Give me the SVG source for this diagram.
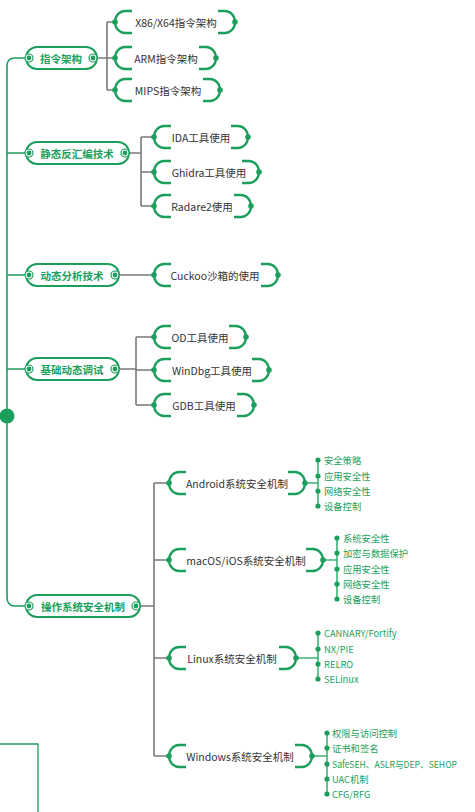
<svg xmlns="http://www.w3.org/2000/svg" width="475" height="812" viewBox="0 0 475 812">
<defs>
<style>
.trunk{fill:none;stroke:#1c9f5c;stroke-width:1.6}
.gray{fill:none;stroke:#7a7a7a;stroke-width:1.6}
.leafline{fill:none;stroke:#3db374;stroke-width:1.6}
.pill{fill:#fff;stroke:#1c9f5c;stroke-width:2}
.ring{fill:#fff;stroke:#1c9f5c;stroke-width:1.2}
.dot{fill:#1c9f5c}
.br{fill:none;stroke:#1c9f5c;stroke-width:2.4}
.mt{font-family:"Noto Sans CJK SC","Noto Sans",sans-serif;font-size:10.5px;font-weight:bold;fill:#1c9f5c;text-anchor:middle;dominant-baseline:central}
.ct{font-family:"Noto Sans CJK SC","Noto Sans",sans-serif;font-size:10.5px;fill:#333;text-anchor:middle;dominant-baseline:central}
.lt{font-family:"Noto Sans CJK SC","Noto Sans",sans-serif;font-size:9.3px;fill:#1c9f5c;dominant-baseline:central}
</style>
</defs>
<g id="connectors">
<path class="trunk" d="M29,58 H15 Q7,58 7,66 V597 Q7,606 15,606 H29"/>
<path class="trunk" d="M7,153 H29 M7,275 H29 M7,369 H29"/>
<circle class="dot" cx="7" cy="416" r="7.5"/>
<path class="gray" d="M93,58 H107 M107,22 V90 M107,22 H115 M107,58 H115 M107,90 H115"/>
<path class="gray" d="M125,153 H141 M141,137 V206 M141,137 H154 M141,172 H154 M141,206 H154"/>
<path class="gray" d="M115,275 H154"/>
<path class="gray" d="M115,369 H136 M136,337 V405 M136,337 H154 M136,370 H154 M136,405 H154"/>
<path class="gray" d="M136,606 H154 M154,483 V756 M154,483 H169 M154,560 H169 M154,658 H169 M154,756 H169"/>
<path class="leafline" d="M305,483 H318 M318,460 V506"/>
<path class="leafline" d="M323,560 H337 M337,538 V599"/>
<path class="leafline" d="M296,658 H318 M318,633 V679"/>
<path class="leafline" d="M312,756 H327 M327,733 V794"/>
<path d="M0,744 H38 V812" fill="none" stroke="#1c9f5c" stroke-width="1.3"/>
</g>
<g id="n-zhiling">
<rect class="pill" x="26" y="47" width="71" height="22" rx="11"/>
<circle class="ring" cx="29" cy="58" r="4"/><circle class="dot" cx="29" cy="58" r="2.4"/>
<circle class="ring" cx="93" cy="58" r="4"/><circle class="dot" cx="93" cy="58" r="2.4"/>
<text class="mt" x="61" y="58">指令架构</text>
</g>
<g id="n-jingtai">
<rect class="pill" x="26" y="142" width="103" height="22" rx="11"/>
<circle class="ring" cx="29" cy="153" r="4"/><circle class="dot" cx="29" cy="153" r="2.4"/>
<circle class="ring" cx="125" cy="153" r="4"/><circle class="dot" cx="125" cy="153" r="2.4"/>
<text class="mt" x="77" y="153">静态反汇编技术</text>
</g>
<g id="n-dongtai">
<rect class="pill" x="26" y="264" width="93" height="22" rx="11"/>
<circle class="ring" cx="29" cy="275" r="4"/><circle class="dot" cx="29" cy="275" r="2.4"/>
<circle class="ring" cx="115" cy="275" r="4"/><circle class="dot" cx="115" cy="275" r="2.4"/>
<text class="mt" x="72" y="275">动态分析技术</text>
</g>
<g id="n-jichu">
<rect class="pill" x="26" y="358" width="93" height="22" rx="11"/>
<circle class="ring" cx="29" cy="369" r="4"/><circle class="dot" cx="29" cy="369" r="2.4"/>
<circle class="ring" cx="115" cy="369" r="4"/><circle class="dot" cx="115" cy="369" r="2.4"/>
<text class="mt" x="72" y="369">基础动态调试</text>
</g>
<g id="n-os">
<rect class="pill" x="26" y="595" width="114" height="22" rx="11"/>
<circle class="ring" cx="29" cy="606" r="4"/><circle class="dot" cx="29" cy="606" r="2.4"/>
<circle class="ring" cx="136" cy="606" r="4"/><circle class="dot" cx="136" cy="606" r="2.4"/>
<text class="mt" x="83" y="606">操作系统安全机制</text>
</g>
<g id="c-x86">
<path class="br" d="M132,11 H125 A10 11 0 0 0 115,22 A10 11 0 0 0 125,33 H132 M218,11 H225 A10 11 0 0 1 235,22 A10 11 0 0 1 225,33 H218"/>
<circle class="dot" cx="115" cy="22" r="2.8"/><circle class="dot" cx="235" cy="22" r="2.8"/>
<text class="ct" x="176" y="22">X86/X64指令架构</text>
</g>
<g id="c-arm">
<path class="br" d="M132,47 H125 A10 11 0 0 0 115,58 A10 11 0 0 0 125,69 H132 M199,47 H206 A10 11 0 0 1 216,58 A10 11 0 0 1 206,69 H199"/>
<circle class="dot" cx="115" cy="58" r="2.8"/><circle class="dot" cx="216" cy="58" r="2.8"/>
<text class="ct" x="166" y="58">ARM指令架构</text>
</g>
<g id="c-mips">
<path class="br" d="M132,79 H125 A10 11 0 0 0 115,90 A10 11 0 0 0 125,101 H132 M203,79 H210 A10 11 0 0 1 220,90 A10 11 0 0 1 210,101 H203"/>
<circle class="dot" cx="115" cy="90" r="2.8"/><circle class="dot" cx="220" cy="90" r="2.8"/>
<text class="ct" x="168" y="90">MIPS指令架构</text>
</g>
<g id="c-ida">
<path class="br" d="M171,126 H164 A10 11 0 0 0 154,137 A10 11 0 0 0 164,148 H171 M231,126 H238 A10 11 0 0 1 248,137 A10 11 0 0 1 238,148 H231"/>
<circle class="dot" cx="154" cy="137" r="2.8"/><circle class="dot" cx="248" cy="137" r="2.8"/>
<text class="ct" x="201" y="137">IDA工具使用</text>
</g>
<g id="c-ghidra">
<path class="br" d="M171,161 H164 A10 11 0 0 0 154,172 A10 11 0 0 0 164,183 H171 M242,161 H249 A10 11 0 0 1 259,172 A10 11 0 0 1 249,183 H242"/>
<circle class="dot" cx="154" cy="172" r="2.8"/><circle class="dot" cx="259" cy="172" r="2.8"/>
<text class="ct" x="209" y="172">Ghidra工具使用</text>
</g>
<g id="c-radare">
<path class="br" d="M171,195 H164 A10 11 0 0 0 154,206 A10 11 0 0 0 164,217 H171 M234,195 H241 A10 11 0 0 1 251,206 A10 11 0 0 1 241,217 H234"/>
<circle class="dot" cx="154" cy="206" r="2.8"/><circle class="dot" cx="251" cy="206" r="2.8"/>
<text class="ct" x="202" y="206">Radare2使用</text>
</g>
<g id="c-cuckoo">
<path class="br" d="M171,264 H164 A10 11 0 0 0 154,275 A10 11 0 0 0 164,286 H171 M261,264 H268 A10 11 0 0 1 278,275 A10 11 0 0 1 268,286 H261"/>
<circle class="dot" cx="154" cy="275" r="2.8"/><circle class="dot" cx="278" cy="275" r="2.8"/>
<text class="ct" x="215" y="275">Cuckoo沙箱的使用</text>
</g>
<g id="c-od">
<path class="br" d="M171,326 H164 A10 11 0 0 0 154,337 A10 11 0 0 0 164,348 H171 M229,326 H236 A10 11 0 0 1 246,337 A10 11 0 0 1 236,348 H229"/>
<circle class="dot" cx="154" cy="337" r="2.8"/><circle class="dot" cx="246" cy="337" r="2.8"/>
<text class="ct" x="200" y="337">OD工具使用</text>
</g>
<g id="c-windbg">
<path class="br" d="M171,359 H164 A10 11 0 0 0 154,370 A10 11 0 0 0 164,381 H171 M252,359 H259 A10 11 0 0 1 269,370 A10 11 0 0 1 259,381 H252"/>
<circle class="dot" cx="154" cy="370" r="2.8"/><circle class="dot" cx="269" cy="370" r="2.8"/>
<text class="ct" x="212" y="370">WinDbg工具使用</text>
</g>
<g id="c-gdb">
<path class="br" d="M171,394 H164 A10 11 0 0 0 154,405 A10 11 0 0 0 164,416 H171 M237,394 H244 A10 11 0 0 1 254,405 A10 11 0 0 1 244,416 H237"/>
<circle class="dot" cx="154" cy="405" r="2.8"/><circle class="dot" cx="254" cy="405" r="2.8"/>
<text class="ct" x="204" y="405">GDB工具使用</text>
</g>
<g id="c-android">
<path class="br" d="M186,472 H179 A10 11 0 0 0 169,483 A10 11 0 0 0 179,494 H186 M288,472 H295 A10 11 0 0 1 305,483 A10 11 0 0 1 295,494 H288"/>
<circle class="dot" cx="169" cy="483" r="2.8"/><circle class="dot" cx="305" cy="483" r="2.8"/>
<text class="ct" x="237" y="483">Android系统安全机制</text>
</g>
<g id="c-macos">
<path class="br" d="M186,549 H179 A10 11 0 0 0 169,560 A10 11 0 0 0 179,571 H186 M306,549 H313 A10 11 0 0 1 323,560 A10 11 0 0 1 313,571 H306"/>
<circle class="dot" cx="169" cy="560" r="2.8"/><circle class="dot" cx="323" cy="560" r="2.8"/>
<text class="ct" x="246" y="560">macOS/iOS系统安全机制</text>
</g>
<g id="c-linux">
<path class="br" d="M186,647 H179 A10 11 0 0 0 169,658 A10 11 0 0 0 179,669 H186 M279,647 H286 A10 11 0 0 1 296,658 A10 11 0 0 1 286,669 H279"/>
<circle class="dot" cx="169" cy="658" r="2.8"/><circle class="dot" cx="296" cy="658" r="2.8"/>
<text class="ct" x="232" y="658">Linux系统安全机制</text>
</g>
<g id="c-windows">
<path class="br" d="M186,745 H179 A10 11 0 0 0 169,756 A10 11 0 0 0 179,767 H186 M295,745 H302 A10 11 0 0 1 312,756 A10 11 0 0 1 302,767 H295"/>
<circle class="dot" cx="169" cy="756" r="2.8"/><circle class="dot" cx="312" cy="756" r="2.8"/>
<text class="ct" x="240" y="756">Windows系统安全机制</text>
</g>
<g id="leaves-android">
<circle class="dot" cx="318" cy="460" r="2.6"/><text class="lt" x="324" y="460">安全策略</text>
<circle class="dot" cx="318" cy="476" r="2.6"/><text class="lt" x="324" y="476">应用安全性</text>
<circle class="dot" cx="318" cy="491" r="2.6"/><text class="lt" x="324" y="491">网络安全性</text>
<circle class="dot" cx="318" cy="506" r="2.6"/><text class="lt" x="324" y="506">设备控制</text>
</g>
<g id="leaves-macos">
<circle class="dot" cx="337" cy="538" r="2.6"/><text class="lt" x="343" y="538">系统安全性</text>
<circle class="dot" cx="337" cy="553" r="2.6"/><text class="lt" x="343" y="553">加密与数据保护</text>
<circle class="dot" cx="337" cy="569" r="2.6"/><text class="lt" x="343" y="569">应用安全性</text>
<circle class="dot" cx="337" cy="584" r="2.6"/><text class="lt" x="343" y="584">网络安全性</text>
<circle class="dot" cx="337" cy="599" r="2.6"/><text class="lt" x="343" y="599">设备控制</text>
</g>
<g id="leaves-linux">
<circle class="dot" cx="318" cy="633" r="2.6"/><text class="lt" x="324" y="633">CANNARY/Fortify</text>
<circle class="dot" cx="318" cy="649" r="2.6"/><text class="lt" x="324" y="649">NX/PIE</text>
<circle class="dot" cx="318" cy="664" r="2.6"/><text class="lt" x="324" y="664">RELRO</text>
<circle class="dot" cx="318" cy="679" r="2.6"/><text class="lt" x="324" y="679">SELinux</text>
</g>
<g id="leaves-windows">
<circle class="dot" cx="327" cy="733" r="2.6"/><text class="lt" x="332" y="733">权限与访问控制</text>
<circle class="dot" cx="327" cy="748" r="2.6"/><text class="lt" x="332" y="748">证书和签名</text>
<circle class="dot" cx="327" cy="764" r="2.6"/><text class="lt" x="332" y="764" textLength="125" lengthAdjust="spacingAndGlyphs">SafeSEH、ASLR与DEP、SEHOP</text>
<circle class="dot" cx="327" cy="779" r="2.6"/><text class="lt" x="332" y="779">UAC机制</text>
<circle class="dot" cx="327" cy="794" r="2.6"/><text class="lt" x="332" y="794">CFG/RFG</text>
</g>
</svg>
